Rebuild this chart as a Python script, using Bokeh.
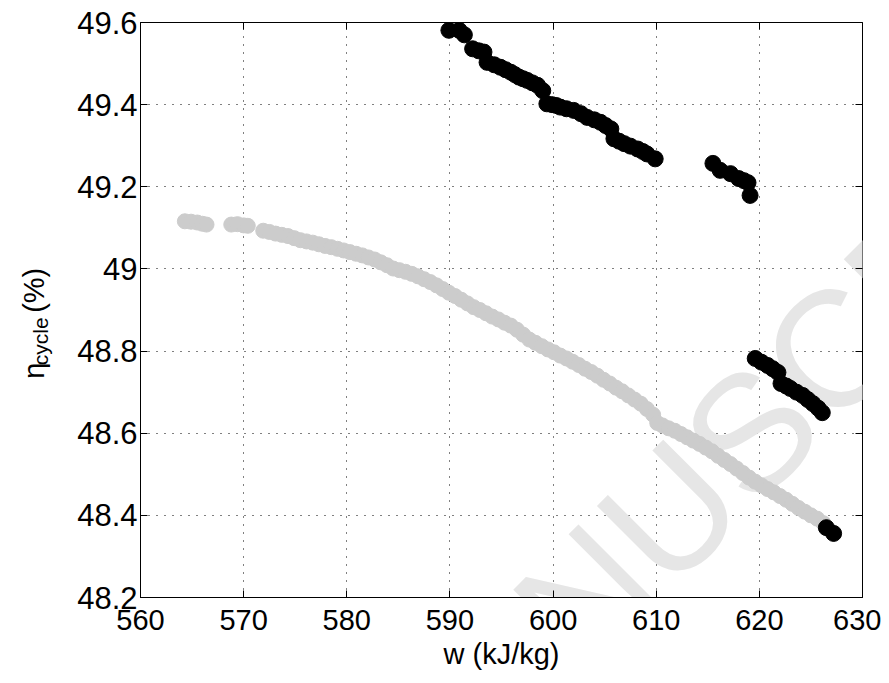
import math
from bokeh.plotting import figure
from bokeh.layouts import row
from bokeh.models import (LinearAxis, Label, FixedTicker, Range1d,
                          CustomJSTickFormatter, CustomLabelingPolicy)
from bokeh.embed import file_html
from bokeh.resources import INLINE

# ---------------- data ----------------
grey_w = [564.3, 564.9, 565.5, 566.0, 566.4,
          568.8, 569.4, 570.0, 570.4,
          571.9, 572.5, 573.1, 573.7, 574.3, 574.9, 575.5, 576.1, 576.7, 577.3,
          577.9, 578.5, 579.1, 579.7, 580.3, 580.9, 581.5, 582.1, 582.7, 583.3,
          583.9, 584.5, 585.1, 585.7, 586.3, 586.9, 587.5, 588.1, 588.7, 589.3,
          589.9, 590.5, 591.1, 591.7, 592.3, 592.9, 593.5, 594.1, 594.7, 595.3,
          595.9, 596.5, 597.1, 597.7, 598.3, 598.9, 599.5, 600.1, 600.7, 601.3,
          601.9, 602.5, 603.1, 603.7, 604.3, 604.9, 605.5, 606.1, 606.7, 607.3,
          607.9, 608.5, 609.1, 609.7, 610.1, 610.6, 611.2, 611.8, 612.4, 613.0,
          613.6, 614.2, 614.8, 615.4, 616.0, 616.6, 617.2, 617.8, 618.4, 619.0,
          619.6, 620.2, 620.8, 621.4, 622.0, 622.6, 623.2, 623.8, 624.4, 625.0,
          625.6, 626.2]
grey_eta = [49.116, 49.115, 49.113, 49.110, 49.108,
            49.108, 49.109, 49.106, 49.105,
            49.093, 49.090, 49.086, 49.083, 49.080, 49.075, 49.070, 49.067, 49.064, 49.060,
            49.056, 49.053, 49.049, 49.045, 49.041, 49.037, 49.033, 49.028, 49.023, 49.016,
            49.009, 49.001, 48.997, 48.993, 48.988, 48.982, 48.975, 48.968, 48.960, 48.951,
            48.942, 48.934, 48.925, 48.916, 48.907, 48.900, 48.892, 48.884, 48.877, 48.869,
            48.862, 48.852, 48.840, 48.828, 48.820, 48.812, 48.804, 48.797, 48.789, 48.782,
            48.774, 48.766, 48.757, 48.749, 48.740, 48.730, 48.721, 48.711, 48.702, 48.692,
            48.682, 48.672, 48.659, 48.645, 48.625, 48.619, 48.612, 48.606, 48.598, 48.590,
            48.582, 48.574, 48.565, 48.556, 48.545, 48.535, 48.525, 48.514, 48.503, 48.492,
            48.482, 48.473, 48.464, 48.456, 48.447, 48.438, 48.428, 48.418, 48.409, 48.400,
            48.392, 48.381]

black_w = [589.9, 590.9, 591.4, 592.2, 592.8, 593.3, 593.6, 594.3, 594.9, 595.4,
           595.9, 596.3, 596.7, 597.1, 597.5, 598.0, 598.5, 599.0, 599.4, 599.9,
           600.3, 600.7, 601.3, 602.0, 602.7, 603.3, 604.0, 604.6, 605.1, 605.6,
           605.9, 606.4, 606.9, 607.5, 608.2, 608.7, 609.1, 609.9,
           615.5, 616.2, 617.2, 618.0, 618.5, 618.9, 619.1,
           619.6, 620.2, 620.8, 621.3, 621.8, 622.1, 622.6, 623.0, 623.6, 624.2,
           624.7, 625.2, 625.7, 626.1,
           626.5, 627.2]
black_eta = [49.581, 49.581, 49.570, 49.536, 49.531, 49.528, 49.503, 49.497, 49.491, 49.485,
             49.479, 49.473, 49.467, 49.463, 49.459, 49.453, 49.447, 49.434, 49.402, 49.400,
             49.398, 49.394, 49.390, 49.386, 49.378, 49.369, 49.363, 49.357, 49.349, 49.341,
             49.317, 49.311, 49.305, 49.299, 49.292, 49.286, 49.280, 49.268,
             49.257, 49.240, 49.232, 49.220, 49.215, 49.210, 49.179,
             48.782, 48.773, 48.765, 48.757, 48.748, 48.721, 48.715, 48.709, 48.700, 48.692,
             48.682, 48.672, 48.661, 48.650,
             48.370, 48.356]

x_ticks = [560, 570, 580, 590, 600, 610, 620, 630]
y_ticks = [48.2, 48.4, 48.6, 48.8, 49.0, 49.2, 49.4, 49.6]
y_tick_labels = ["48.2", "48.4", "48.6", "48.8", "49", "49.2", "49.4", "49.6"]
x_label = "w (kJ/kg)"
y_label_main = "\u03b7"
y_label_sub = "cycle"
y_label_unit = "(%)"
watermark = "ACCEPTED MANUSCRIPT"

FONT = "Liberation Sans"
FS = "29px"

# ---------------- main plot ----------------
p = figure(width=821, height=679,
           x_range=Range1d(560, 630), y_range=Range1d(48.2, 49.6),
           output_backend="svg", toolbar_location=None,
           min_border_left=80, min_border_right=19,
           min_border_top=22, min_border_bottom=82)
p.background_fill_color = "white"
p.border_fill_color = "white"
p.outline_line_color = "black"
p.outline_line_width = 1

bottom = p.below[0]
left = p.left[0]

# watermark (faint, behind data)
p.add_layout(Label(x=280, y=-165, x_units="screen", y_units="screen",
                   text=watermark, angle=math.radians(45),
                   text_align="center", text_baseline="middle",
                   text_font=FONT, text_font_size="165px",
                   text_color="#e6e6e6", level="underlay"))

p.scatter(grey_w, grey_eta, size=15, fill_color="#cccccc", line_color="#cccccc")
p.scatter(black_w, black_eta, size=16, fill_color="black", line_color="black")

yfmt = CustomJSTickFormatter(args=dict(tv=y_ticks, tl=y_tick_labels), code="""
let best = 0;
for (let i = 0; i < tv.length; i++) {
  if (Math.abs(tv[i] - tick) < Math.abs(tv[best] - tick)) best = i;
}
return tl[best];
""")

bottom.ticker = FixedTicker(ticks=x_ticks)
left.ticker = FixedTicker(ticks=y_ticks)
left.formatter = yfmt

top = LinearAxis(ticker=FixedTicker(ticks=x_ticks))
right = LinearAxis(ticker=FixedTicker(ticks=y_ticks))
p.add_layout(top, "above")
p.add_layout(right, "right")

for ax in [bottom, left, top, right]:
    ax.major_tick_in = 7
    ax.major_tick_out = 0
    ax.minor_tick_in = 0
    ax.minor_tick_out = 0
    ax.axis_line_color = "black"
    ax.major_tick_line_color = "black"
    ax.major_label_text_font = FONT
    ax.major_label_text_font_size = FS
    ax.major_label_text_color = "black"

left.major_label_text_font_size = "31px"

no_labels = CustomLabelingPolicy(code="""
const all = [...indices];
for (const i of all) indices.unset(i);
return indices;
""")
for ax in [top, right]:
    ax.major_label_text_font_size = "0px"
    ax.major_label_standoff = 0
    ax.major_label_policy = no_labels
    ax.axis_line_color = None

bottom.major_label_standoff = 12
left.major_label_standoff = 3
bottom.axis_label = x_label
bottom.axis_label_text_font = FONT
bottom.axis_label_text_font_size = FS
bottom.axis_label_text_font_style = "normal"
bottom.axis_label_text_color = "black"
bottom.axis_label_standoff = 5

p.grid.grid_line_color = "black"
p.grid.grid_line_dash = "1 7"
p.grid.grid_line_width = 1
p.xgrid.ticker = FixedTicker(ticks=x_ticks)
p.ygrid.ticker = FixedTicker(ticks=y_ticks)

# ---------------- y label panel (eta with subscript) ----------------
lab = figure(width=60, height=667, x_range=Range1d(0, 60), y_range=Range1d(0, 667),
             output_backend="svg", toolbar_location=None,
             x_axis_type=None, y_axis_type=None, min_border=0)
lab.outline_line_color = None
lab.grid.visible = False
rot = math.pi / 2
lab.add_layout(Label(x=33, y=245, text=y_label_main, angle=rot,
                     text_align="left", text_baseline="alphabetic",
                     text_font=FONT, text_font_size=FS, text_color="black"))
lab.add_layout(Label(x=40, y=261, text=y_label_sub, angle=rot,
                     text_align="left", text_baseline="alphabetic",
                     text_font=FONT, text_font_size="21px", text_color="black"))
lab.add_layout(Label(x=33, y=323, text=y_label_unit, angle=rot,
                     text_align="left", text_baseline="alphabetic",
                     text_font=FONT, text_font_size=FS, text_color="black"))

layout = row(lab, p, spacing=0)
open("out.html", "w").write(file_html(layout, INLINE))
